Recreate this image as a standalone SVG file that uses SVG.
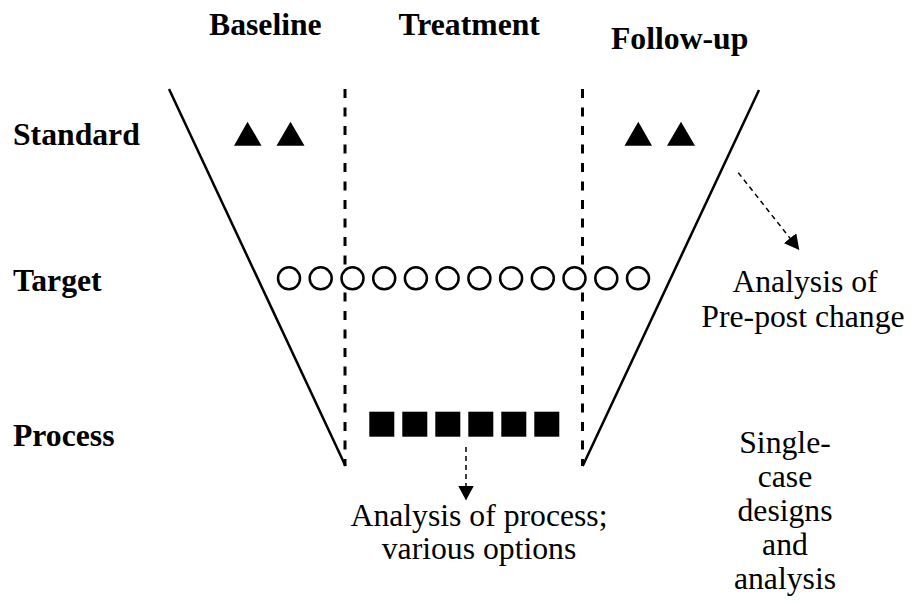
<svg xmlns="http://www.w3.org/2000/svg" width="912" height="605" viewBox="0 0 912 605">
<style>
text{font-family:'Liberation Serif','Times New Roman',Tinos,'DejaVu Serif',serif;font-size:31.7px;fill:#000}
.bold{font-weight:bold}
.solid{stroke:#000;stroke-width:2.5;fill:none}
.vdash{stroke:#000;stroke-width:3;stroke-dasharray:9 9.5;fill:none}
.adash{stroke:#000;stroke-width:1.5;stroke-dasharray:5 4;fill:none}
.circ{fill:#fff;stroke:#000;stroke-width:2.5}
.tri,.sq{fill:#000}
</style>
<defs>
<marker id="ah" markerUnits="userSpaceOnUse" markerWidth="16" markerHeight="16" viewBox="0 0 16 16" refX="15" refY="8" orient="auto">
<path d="M0,0 L15,8 L0,16 Z" fill="#000"/>
</marker>
</defs>
<rect width="912" height="605" fill="#fff"/>
<g id="headers">
<text class="bold" x="209" y="35">Baseline</text>
<text class="bold" x="398.5" y="35">Treatment</text>
<text class="bold" x="611" y="48.5">Follow-up</text>
</g>
<g id="rows">
<text class="bold" x="13" y="145">Standard</text>
<text class="bold" x="13" y="291">Target</text>
<text class="bold" x="13" y="446">Process</text>
</g>
<g id="frame">
<line class="solid" x1="169" y1="89" x2="345.5" y2="466"/>
<line class="solid" x1="759" y1="90" x2="582.7" y2="466"/>
<line class="vdash" x1="345" y1="89" x2="345" y2="466"/>
<line class="vdash" x1="582.5" y1="89" x2="582.5" y2="466"/>
</g>
<g id="standard-baseline">
<polygon class="tri" points="247.5,121.7 234,145.7 261.5,145.7"/>
<polygon class="tri" points="290.5,121.7 276.5,145.7 304.5,145.7"/>
</g>
<g id="standard-followup">
<polygon class="tri" points="638.3,121.7 624.5,145.7 652,145.7"/>
<polygon class="tri" points="681,121.7 667,145.7 695,145.7"/>
</g>
<g id="target">
<circle class="circ" cx="289" cy="278.3" r="11"/>
<circle class="circ" cx="320.7" cy="278.3" r="11"/>
<circle class="circ" cx="352.5" cy="278.3" r="11"/>
<circle class="circ" cx="384.2" cy="278.3" r="11"/>
<circle class="circ" cx="415.9" cy="278.3" r="11"/>
<circle class="circ" cx="447.6" cy="278.3" r="11"/>
<circle class="circ" cx="479.4" cy="278.3" r="11"/>
<circle class="circ" cx="511.1" cy="278.3" r="11"/>
<circle class="circ" cx="542.8" cy="278.3" r="11"/>
<circle class="circ" cx="574.5" cy="278.3" r="11"/>
<circle class="circ" cx="606.3" cy="278.3" r="11"/>
<circle class="circ" cx="638" cy="278.3" r="11"/>
</g>
<g id="process">
<rect class="sq" x="369.3" y="411.7" width="25" height="25"/>
<rect class="sq" x="402.3" y="411.7" width="25" height="25"/>
<rect class="sq" x="435.3" y="411.7" width="25" height="25"/>
<rect class="sq" x="468.3" y="411.7" width="25" height="25"/>
<rect class="sq" x="501.3" y="411.7" width="25" height="25"/>
<rect class="sq" x="534.3" y="411.7" width="25" height="25"/>
</g>
<g id="connectors">
<line class="adash" x1="466" y1="447" x2="466" y2="500.5" marker-end="url(#ah)"/>
<line class="adash" x1="738.3" y1="172.7" x2="799.3" y2="250" marker-end="url(#ah)"/>
</g>
<g id="process-analysis">
<text x="479" y="526" text-anchor="middle">Analysis of process;</text>
<text x="479" y="559" text-anchor="middle">various options</text>
</g>
<g id="prepost-analysis">
<text x="805" y="291.5" text-anchor="middle">Analysis of</text>
<text x="803" y="326.5" text-anchor="middle">Pre-post change</text>
</g>
<g id="single-case">
<text x="785" y="453" text-anchor="middle">Single-</text>
<text x="785" y="487" text-anchor="middle">case</text>
<text x="785" y="521" text-anchor="middle">designs</text>
<text x="785" y="555" text-anchor="middle">and</text>
<text x="785" y="589" text-anchor="middle">analysis</text>
</g>
</svg>
